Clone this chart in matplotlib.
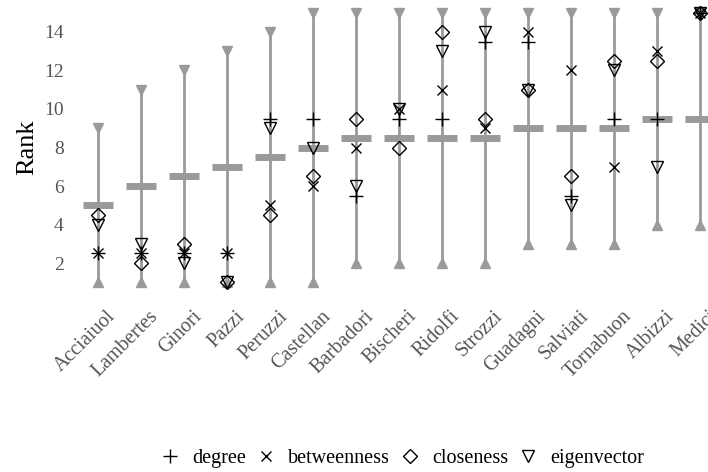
import matplotlib
matplotlib.use("Agg")
import matplotlib.pyplot as plt
import matplotlib.transforms as mtransforms
import numpy as np
from matplotlib.lines import Line2D

plt.rcParams['font.family'] = ['Liberation Serif', 'DejaVu Serif']

families = ['Acciaiuol', 'Lambertes', 'Ginori', 'Pazzi', 'Peruzzi', 'Castellan',
            'Barbadori', 'Bischeri', 'Ridolfi', 'Strozzi', 'Guadagni', 'Salviati',
            'Tornabuon', 'Albizzi', 'Medici']
rank_min = [1, 1, 1, 1, 1, 1, 2, 2, 2, 2, 3, 3, 3, 4, 4]
rank_max = [9, 11, 12, 13, 14, 15, 15, 15, 15, 15, 15, 15, 15, 15, 15]
rank_mid = [5, 6, 6.5, 7, 7.5, 8, 8.5, 8.5, 8.5, 8.5, 9, 9, 9, 9.5, 9.5]

degree = [2.5, 2.5, 2.5, 2.5, 9.5, 9.5, 5.5, 9.5, 9.5, 13.5, 13.5, 5.5, 9.5, 9.5, 15]
betweenness = [2.5, 2.5, 2.5, 2.5, 5, 6, 8, 10, 11, 9, 14, 12, 7, 13, 15]
closeness = [4.5, 2, 3, 1, 4.5, 6.5, 9.5, 8, 14, 9.5, 11, 6.5, 12.5, 12.5, 15]
eigenvector = [4, 3, 2, 1, 9, 8, 6, 10, 13, 14, 11, 5, 12, 7, 15]

gray = '#9a9a9a'
text_gray = '#555555'
x = np.arange(len(families))

fig = plt.figure(figsize=(7.08, 4.72), dpi=100)
ax = fig.add_axes([72 / 708, 180 / 472, 654 / 708, 289 / 472])

# range lines with triangle ends, bar at midpoint
ax.vlines(x, rank_min, rank_max, color=gray, lw=2, zorder=1)
ax.plot(x, rank_min, ls='none', marker='^', ms=7, color=gray, zorder=2)
ax.plot(x, rank_max, ls='none', marker='v', ms=7, color=gray, zorder=2)
ax.hlines(rank_mid, x - 0.35, x + 0.35, color=gray, lw=5, zorder=2)

# centrality ranks
styles = dict(
    degree=dict(marker='+', ms=10, mew=1, color='black'),
    betweenness=dict(marker='x', ms=7, mew=1, color='black'),
    closeness=dict(marker='D', ms=7, mew=1, mfc='none', mec='black'),
    eigenvector=dict(marker='v', ms=9, mew=1, mfc='none', mec='black'),
)
series = dict(degree=degree, betweenness=betweenness,
              closeness=closeness, eigenvector=eigenvector)
for name, vals in series.items():
    ax.plot(x, vals, ls='none', zorder=3, **styles[name])

ax.set_xlim(-0.6, 14.6)
ax.set_ylim(0.5, 15.5)
ax.set_yticks([2, 4, 6, 8, 10, 12, 14])
ax.set_xticks(x)
ax.set_xticklabels([])
ax.tick_params(axis='y', labelsize=14, labelcolor=text_gray, length=0, pad=6)
ax.tick_params(axis='x', length=0)
ax.set_ylabel('Rank', fontsize=19, labelpad=4)
for s in ax.spines.values():
    s.set_visible(False)

# rotated category labels, nudged right/down like the original
lbl_tf = ax.get_xaxis_transform() + mtransforms.ScaledTranslation(
    8 / 100, -15 / 100, fig.dpi_scale_trans)
for xi, name in zip(x, families):
    ax.text(xi, 0, name, transform=lbl_tf, rotation=45, rotation_mode='anchor',
            ha='right', va='top', fontsize=14.5, color=text_gray, clip_on=False)

handles = [Line2D([], [], ls='none', **styles[n]) for n in series]
fig.legend(handles, list(series), loc='center',
           bbox_to_anchor=(403 / 708, 1 - 458 / 472), ncol=4,
           frameon=False, fontsize=14.5, handlelength=0.8, handletextpad=0.7,
           columnspacing=0.6)

fig.savefig('out.png', dpi=100)
